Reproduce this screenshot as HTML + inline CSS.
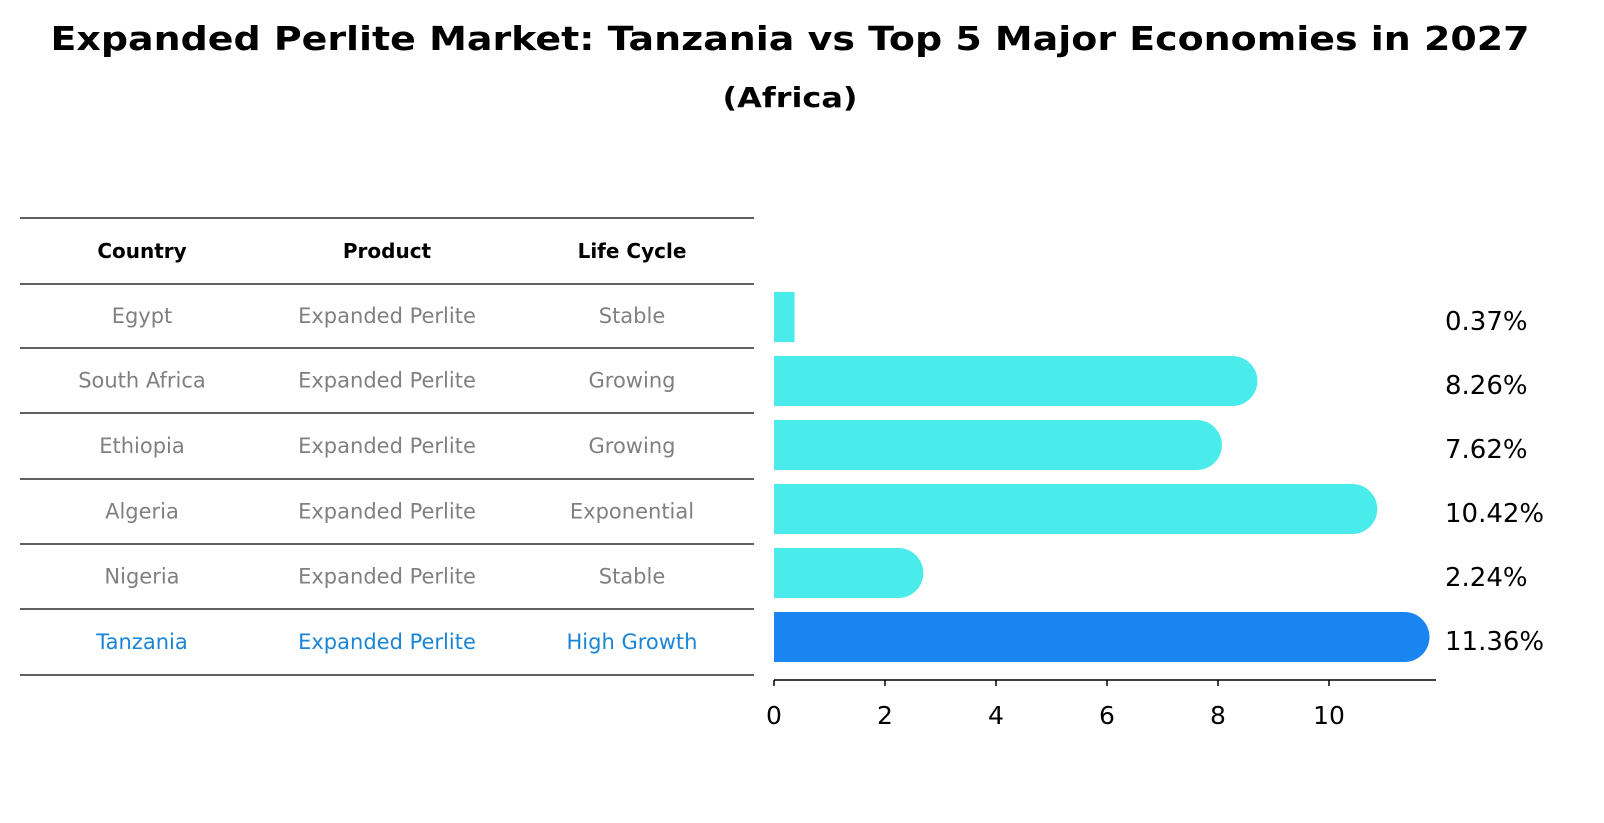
<!DOCTYPE html>
<html><head><meta charset="utf-8"><style>
body{margin:0;background:#fff;font-family:"DejaVu Sans","Liberation Sans",sans-serif;}
svg{display:block}
</style></head><body>
<svg width="1604" height="823" id="c">
<text x="790" y="50" text-anchor="middle" font-size="33" font-weight="bold" textLength="1479" lengthAdjust="spacingAndGlyphs">Expanded Perlite Market: Tanzania vs Top 5 Major Economies in 2027</text>
<text x="790" y="107" text-anchor="middle" font-size="28" font-weight="bold" textLength="135" lengthAdjust="spacingAndGlyphs">(Africa)</text>
<g id="tbl"></g>
<g id="bars"></g>
</svg>
<script>
const countries=["Egypt","South Africa","Ethiopia","Algeria","Nigeria","Tanzania"];
const products=["Expanded Perlite","Expanded Perlite","Expanded Perlite","Expanded Perlite","Expanded Perlite","Expanded Perlite"];
const lifeCycles=["Stable","Growing","Growing","Exponential","Stable","High Growth"];
const values=[0.37,8.26,7.62,10.42,2.24,11.36];
const valueLabels=["0.37%","8.26%","7.62%","10.42%","2.24%","11.36%"];
const ticks=[0,2,4,6,8,10];
const NS="http://www.w3.org/2000/svg";
function mk(t,a,p){const e=document.createElementNS(NS,t);for(const k in a)e.setAttribute(k,a[k]);p.appendChild(e);return e;}
const tbl=document.getElementById('tbl'),bars=document.getElementById('bars');
const lineYs=[218,284,348,413,479,544,609,675];
const colX=[142,387,632];
lineYs.forEach(y=>{const l=mk('line',{x1:20,x2:754,y1:y,y2:y,stroke:'#000','stroke-width':1.2},tbl);

});
["Country","Product","Life Cycle"].forEach((h,i)=>{const t=mk('text',{x:colX[i],y:258,'text-anchor':'middle','font-size':20,'font-weight':'bold'},tbl);t.textContent=h;

});
const rowY=i=>(lineYs[i+1]+lineYs[i+2])/2+7;
countries.forEach((c,i)=>{const col=i===5?'#1a85d6':'#808080';
[c,products[i],lifeCycles[i]].forEach((v,j)=>{const t=mk('text',{x:colX[j],y:rowY(i),'text-anchor':'middle','font-size':21},tbl);t.setAttribute('fill',col);t.textContent=v;

});});
const x0=774,sc=55.5,xs=v=>x0+v*sc;
const yc=i=>317+i*64,h=50,r=25;
values.forEach((v,i)=>{const col=i===5?'#1a85f0':'#4aeceb';const y=yc(i)-h/2;
let d;const xe=xs(v);
if(v*sc<r){d=`M${x0},${y}H${xe}V${y+h}H${x0}Z`;}
else d=`M${x0},${y}H${xe}A${r},${r} 0 0 1 ${xe},${y+h}H${x0}Z`;
const p=mk('path',{d:d,fill:col},bars);


const t=mk('text',{x:1445,y:yc(i)+13,'font-size':26},bars);t.textContent=valueLabels[i];

});
const ax=mk('line',{x1:774,x2:1436,y1:680,y2:680,stroke:'#000','stroke-width':1.5},bars);


ticks.forEach(v=>{const l=mk('line',{x1:xs(v),x2:xs(v),y1:680,y2:686,stroke:'#000','stroke-width':1.5},bars);


const t=mk('text',{x:xs(v),y:724,'text-anchor':'middle','font-size':25},bars);t.textContent=v;

});
</script>
</body></html>
